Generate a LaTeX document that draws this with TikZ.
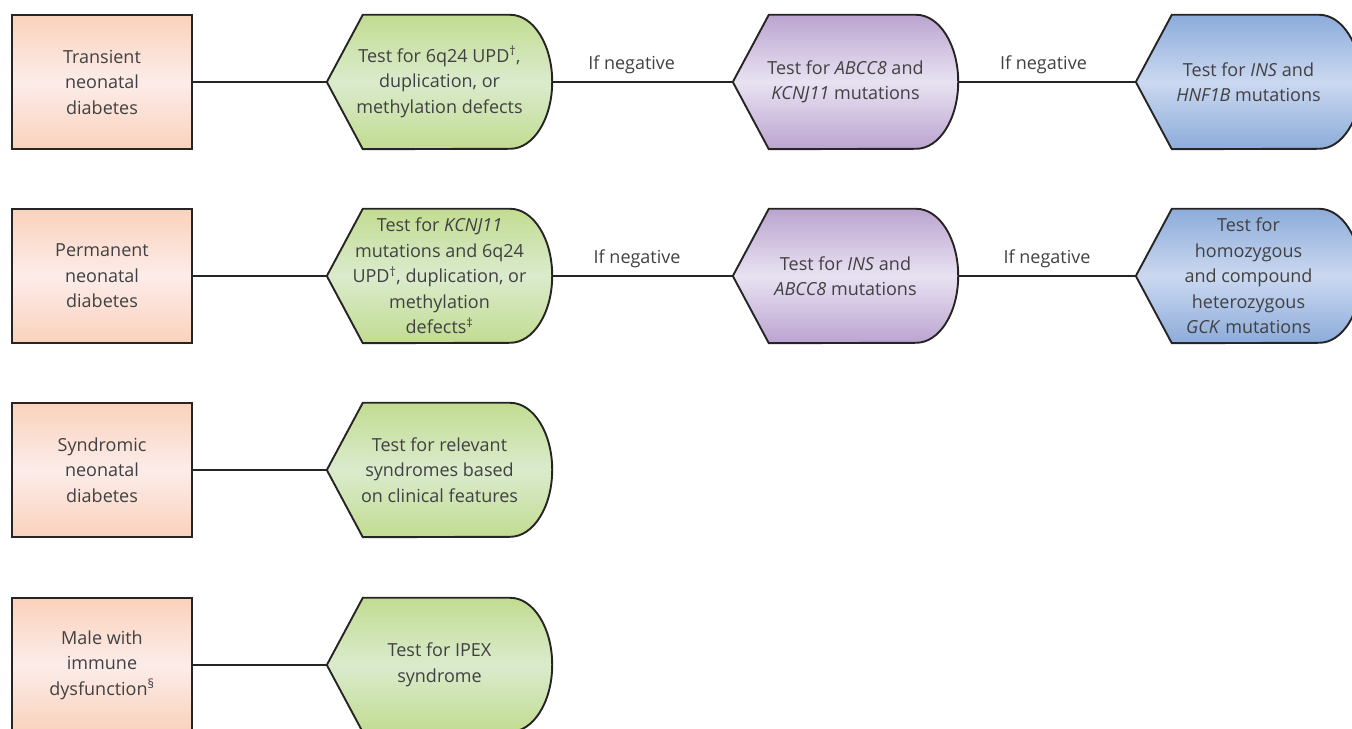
\documentclass[tikz,border=0pt]{standalone}
\usepackage{fontspec}
\setmainfont{Open Sans}
\usetikzlibrary{backgrounds}
\definecolor{ink}{RGB}{38,36,37}
\definecolor{txt}{RGB}{65,64,66}
\definecolor{peachE}{RGB}{250,210,188}
\definecolor{peachM}{RGB}{252,236,233}
\definecolor{greenE}{RGB}{194,220,145}
\definecolor{greenM}{RGB}{218,235,205}
\definecolor{purpE}{RGB}{187,164,208}
\definecolor{purpM}{RGB}{232,226,242}
\definecolor{blueE}{RGB}{140,172,218}
\definecolor{blueM}{RGB}{203,216,240}
\tikzset{
  base/.style={font=\fontsize{18bp}{25.5bp}\selectfont, text=txt, align=center, inner sep=0pt},
  condbox/.style={base, draw=ink, line width=1.9bp, minimum width=180bp, minimum height=134bp,
    top color=peachE, bottom color=peachE, middle color=peachM},
  testbox/.style={base, minimum width=225bp, minimum height=134bp},
  conn/.style={draw=ink, line width=1.8bp},
  neglabel/.style={base, above=7bp}
}
\newcommand{\testshape}[3]{%
  \filldraw[draw=ink, line width=1.9bp, line join=miter, top color=#2, bottom color=#2, middle color=#3]
    (#1.west) -- ([xshift=36bp]#1.north west) -- ([xshift=-42bp]#1.north east)
    arc[start angle=90, end angle=-90, x radius=42bp, y radius=67bp]
    -- ([xshift=36bp]#1.south west) -- cycle;}
\begin{document}
\begin{tikzpicture}[x=1bp,y=1bp]
\useasboundingbox (0,0) rectangle (1352,728);
\begin{scope}
\clip (0,0) rectangle (1352,728);
% row 1
\node[condbox] (c1) at (102,646) {Transient\\neonatal\\diabetes};
\node[testbox] (g1) at (439.5,646) {Test for 6q24 UPD\textsuperscript{†},\\duplication, or\\methylation defects};
\node[testbox] (p1) at (845.5,646) {Test for \textit{ABCC8} and\\\textit{KCNJ11} mutations};
\node[testbox] (b1) at (1248.5,646) {Test for \textit{INS} and\\\textit{HNF1B} mutations};
% row 2
\node[condbox] (c2) at (102,452) {Permanent\\neonatal\\diabetes};
\node[testbox] (g2) at (439.5,452) {Test for \textit{KCNJ11}\\mutations and 6q24\\UPD\textsuperscript{†}, duplication, or\\methylation\\defects\textsuperscript{‡}};
\node[testbox] (p2) at (845.5,452) {Test for \textit{INS} and\\\textit{ABCC8} mutations};
\node[testbox] (b2) at (1248.5,452) {Test for\\homozygous\\and compound\\heterozygous\\\textit{GCK} mutations};
% row 3
\node[condbox] (c3) at (102,258) {Syndromic\\neonatal\\diabetes};
\node[testbox] (g3) at (439.5,258) {Test for relevant\\syndromes based\\on clinical features};
% row 4
\node[condbox] (c4) at (102,63) {Male with\\immune\\dysfunction\textsuperscript{§}};
\node[testbox] (g4) at (439.5,63) {Test for IPEX\\syndrome};
\begin{scope}[on background layer]
\testshape{g1}{greenE}{greenM}
\testshape{p1}{purpE}{purpM}
\testshape{b1}{blueE}{blueM}
\testshape{g2}{greenE}{greenM}
\testshape{p2}{purpE}{purpM}
\testshape{b2}{blueE}{blueM}
\testshape{g3}{greenE}{greenM}
\testshape{g4}{greenE}{greenM}
\end{scope}
\draw[conn] (c1.east) -- (g1.west);
\draw[conn] (g1.east) -- node[neglabel, pos=0.44] (l1) {If negative} (p1.west);
\draw[conn] (p1.east) -- node[neglabel, pos=0.48] (l2) {If negative} (b1.west);
\draw[conn] (c2.east) -- (g2.west);
\draw[conn] (g2.east) -- node[neglabel, pos=0.47] (l3) {If negative} (p2.west);
\draw[conn] (p2.east) -- node[neglabel, pos=0.5] (l4) {If negative} (b2.west);
\draw[conn] (c3.east) -- (g3.west);
\draw[conn] (c4.east) -- (g4.west);
\end{scope}
\end{tikzpicture}
\end{document}
